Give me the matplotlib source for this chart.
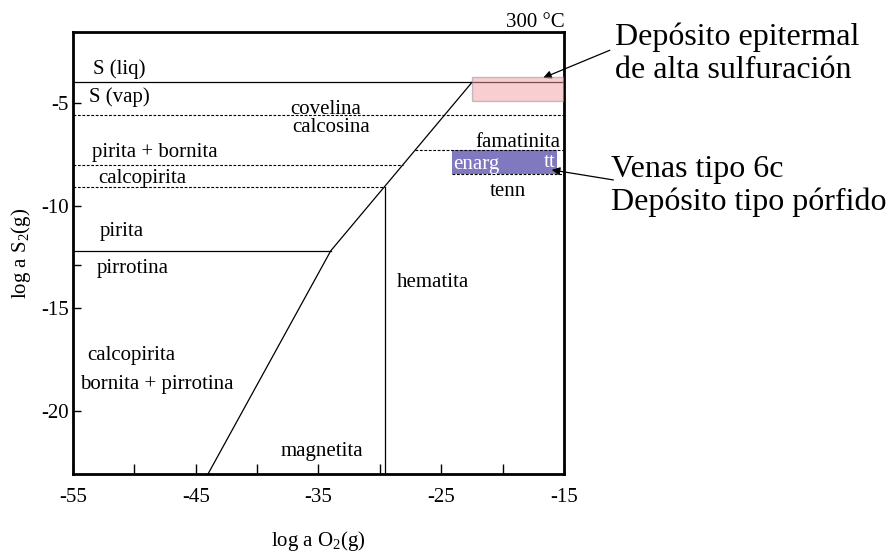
import numpy as np
import matplotlib
matplotlib.use('Agg')
from matplotlib import pyplot as plt
from matplotlib.patches import Rectangle

plt.rcParams['font.family'] = ['Liberation Serif', 'DejaVu Serif']
plt.rcParams['mathtext.fontset'] = 'custom'
plt.rcParams['mathtext.rm'] = 'Liberation Serif'
plt.rcParams['mathtext.it'] = 'Liberation Serif:italic'
plt.rcParams['axes.unicode_minus'] = False

# axes ranges: log a O2 (x), log a S2 (y)
x_range = [-55, -15]
y_range = [-23.07, -1.53]
x_ticks = [-55, -45, -35, -25, -15]
x_minor = [-50, -40, -30, -20]
y_ticks = [-20, -15, -10, -5]
y_minor = [-12.9]

# horizontal boundaries (log a S2)
s_liq_vap = -4.0
cov_cc = -5.6
py_bn_cp = -8.0
cp_lower = -9.1
py_po = -12.2
fam_en = -7.29
en_tn = -8.48
en_tn_start = -24.1

# pirrotina/magnetita -> hematita boundary, bends at the pirita line
diag_x = [-44.0, -34.0, -22.5]
diag_y = [-23.07, -12.2, -4.0]
# hematita / magnetita
hm_mt_x = -29.6

# shaded fields (x0, x1, y0, y1)
epithermal_box = (-22.5, -15.0, -4.9, -3.73)
veins_box = (-24.1, -15.6, -8.46, -7.29)

# field labels: text, x, y, ha, colour
labels = [
    ("S (liq)", -53.4, -3.35, 'left', 'black'),
    ("S (vap)", -53.7, -4.72, 'left', 'black'),
    ("covelina", -34.4, -5.32, 'center', 'black'),
    ("calcosina", -34.0, -6.22, 'center', 'black'),
    ("pirita + bornita", -53.45, -7.4, 'left', 'black'),
    ("calcopirita", -52.96, -8.66, 'left', 'black'),
    ("famatinita", -15.3, -6.92, 'right', 'black'),
    ("enarg", -24.0, -8.02, 'left', 'white'),
    ("tt", -16.2, -7.88, 'center', 'white'),
    ("tenn", -19.6, -9.3, 'center', 'black'),
    ("pirita", -52.8, -11.24, 'left', 'black'),
    ("pirrotina", -53.05, -13.04, 'left', 'black'),
    ("hematita", -28.6, -13.72, 'left', 'black'),
    ("calcopirita", -53.8, -17.32, 'left', 'black'),
    ("bornita + pirrotina", -54.4, -18.72, 'left', 'black'),
    ("magnetita", -34.7, -21.97, 'center', 'black'),
]

fig = plt.figure(figsize=(8.89, 5.52), dpi=100)
ax = fig.add_axes([0.0821, 0.1413, 0.5523, 0.8013])

def diag_at(y):
    return np.interp(y, diag_y, diag_x)

# shaded boxes
ax.add_patch(Rectangle((veins_box[0], veins_box[2]), veins_box[1] - veins_box[0],
                       veins_box[3] - veins_box[2], facecolor='#8079bf', edgecolor='none', zorder=1))

# solid boundaries
ax.plot(x_range, [s_liq_vap, s_liq_vap], color='black', lw=0.9, zorder=2)
ax.plot([x_range[0], diag_x[1]], [py_po, py_po], color='black', lw=0.9, zorder=2)
ax.plot(diag_x, diag_y, color='black', lw=0.9, zorder=2)
ax.plot([hm_mt_x, hm_mt_x], [y_range[0], cp_lower], color='black', lw=0.9, zorder=2)

# dashed boundaries
dash = dict(color='black', lw=0.8, ls=(0, (2.5, 1.5)), zorder=3)
ax.plot(x_range, [cov_cc, cov_cc], **dash)
ax.plot([x_range[0], diag_at(py_bn_cp)], [py_bn_cp, py_bn_cp], **dash)
ax.plot([x_range[0], hm_mt_x], [cp_lower, cp_lower], **dash)
ax.plot([diag_at(fam_en), x_range[1]], [fam_en, fam_en], **dash)
ax.plot([en_tn_start, x_range[1]], [en_tn, en_tn], **dash)

ax.add_patch(Rectangle((epithermal_box[0], epithermal_box[2]), epithermal_box[1] - epithermal_box[0],
                       epithermal_box[3] - epithermal_box[2], facecolor='#f39ea3', alpha=0.5,
                       edgecolor='#8c8c8c', lw=1.0, zorder=4))

for txt, x, y, ha, col in labels:
    ax.text(x, y, txt, ha=ha, va='center', fontsize=15, color=col, zorder=5)

ax.set_xlim(x_range)
ax.set_ylim(y_range)
ax.set_xticks(x_ticks)
ax.set_xticks(x_minor, minor=True)
ax.set_yticks(y_ticks)
ax.set_yticks(y_minor, minor=True)
ax.tick_params(axis='x', which='both', direction='in', length=7, width=1.0, labelsize=15, pad=10)
ax.tick_params(axis='y', which='both', direction='in', length=6, width=1.0, labelsize=15, pad=3)
ax.tick_params(axis='y', which='both', left=True, right=False)
ax.tick_params(axis='x', which='both', bottom=True, top=False)
for sp in ax.spines.values():
    sp.set_linewidth(2.0)

ax.set_xlabel(r"log a O$_2$(g)", fontsize=15)
ax.xaxis.set_label_coords(0.5, -0.125)
ax.set_ylabel(r"log a S$_2$(g)", fontsize=15)
ax.yaxis.set_label_coords(-0.082, 0.5)

fig.text(0.6355, 0.951, "300 °C", ha='right', va='baseline', fontsize=15)

# outside annotations
fig.text(0.692, 0.918, "Depósito epitermal", ha='left', va='baseline', fontsize=23)
fig.text(0.692, 0.859, "de alta sulfuración", ha='left', va='baseline', fontsize=23)
fig.text(0.687, 0.679, "Venas tipo 6c", ha='left', va='baseline', fontsize=23)
fig.text(0.687, 0.620, "Depósito tipo pórfido", ha='left', va='baseline', fontsize=23)

arrow = dict(arrowstyle='-|>', color='black', lw=0.9, mutation_scale=12, shrinkA=0, shrinkB=0)
ax.annotate("", xy=(-16.7, -3.78), xycoords='data', xytext=(0.686, 0.909),
            textcoords='figure fraction', arrowprops=arrow, annotation_clip=False)
ax.annotate("", xy=(-16.0, -8.26), xycoords='data', xytext=(0.690, 0.674),
            textcoords='figure fraction', arrowprops=arrow, annotation_clip=False)

fig.savefig('out.png', dpi=100)
